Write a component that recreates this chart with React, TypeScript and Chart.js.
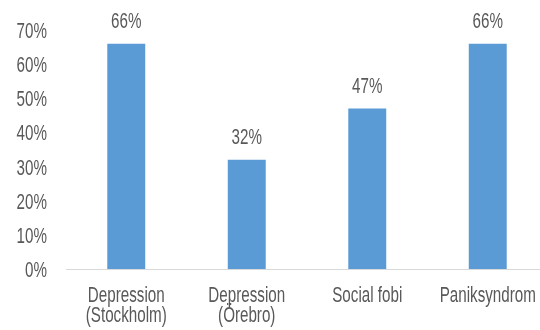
import React, { useEffect, useRef } from "react";
import { Chart, registerables } from "chart.js";

Chart.register(...registerables);

const categories: string[][] = [
  ["Depression", "(Stockholm)"],
  ["Depression", "(Örebro)"],
  ["Social fobi"],
  ["Paniksyndrom"],
];
const values: number[] = [66, 32, 47, 66];
const yTicks: number[] = [0, 10, 20, 30, 40, 50, 60, 70];

const FONT = "'Liberation Sans', Arial, sans-serif";
const FONT_SIZE = 22;
const SQUEEZE = 0.69; // horizontal squeeze for a tall, narrow look
const TEXT = "#595959";

// Draws text horizontally squeezed around an anchor point
function squeezedText(
  ctx: CanvasRenderingContext2D,
  text: string,
  x: number,
  y: number,
  align: CanvasTextAlign
) {
  ctx.save();
  ctx.translate(x, y);
  ctx.scale(SQUEEZE, 1);
  ctx.textAlign = align;
  ctx.fillText(text, 0, 0);
  ctx.restore();
}

// Axis labels and value labels drawn from the chart's own scales
const textLayer = {
  id: "textLayer",
  afterDatasetsDraw(chart: Chart) {
    const ctx = chart.ctx;
    const xs: any = chart.scales.x;
    const ys: any = chart.scales.y;
    const area = chart.chartArea;
    ctx.save();
    ctx.font = `${FONT_SIZE}px ${FONT}`;
    ctx.fillStyle = TEXT;
    ctx.textBaseline = "alphabetic";

    // y tick labels
    yTicks.forEach((v) => {
      squeezedText(ctx, `${v}%`, area.left - 19, ys.getPixelForValue(v) + 8, "right");
    });

    // category labels
    categories.forEach((lines, i) => {
      const cx = xs.getPixelForValue(i);
      lines.forEach((line, j) => {
        squeezedText(ctx, line, cx, area.bottom + 32.5 + j * 20.5, "center");
      });
    });

    // value labels above bars
    const meta = chart.getDatasetMeta(0);
    meta.data.forEach((el: any, i: number) => {
      squeezedText(ctx, `${values[i]}%`, el.x, el.y - 16, "center");
    });
    ctx.restore();
  },
};

export default function App() {
  const ref = useRef<HTMLCanvasElement>(null);

  useEffect(() => {
    if (!ref.current) return;
    const chart = new Chart(ref.current, {
      type: "bar",
      data: {
        labels: categories.map((c) => c.join(" ")),
        datasets: [
          {
            data: values,
            backgroundColor: "#5b9bd5",
            borderWidth: 0,
            categoryPercentage: 1,
            barPercentage: 0.315,
          },
        ],
      },
      options: {
        responsive: false,
        animation: false,
        layout: { autoPadding: false, padding: { top: 30, right: 12, left: 0, bottom: 0 } },
        plugins: { legend: { display: false }, tooltip: { enabled: false } },
        scales: {
          x: {
            grid: { display: false, drawTicks: false },
            border: { display: true, color: "#d9d9d9", width: 1 },
            ticks: { display: false },
            afterFit: (s: any) => {
              s.height = 61;
            },
          },
          y: {
            min: 0,
            max: 70,
            grid: { display: false, drawTicks: false },
            border: { display: false },
            ticks: { display: false, stepSize: 10 },
            afterFit: (s: any) => {
              s.width = 66;
            },
          },
        },
      },
      plugins: [textLayer],
    });
    return () => chart.destroy();
  }, []);

  return (
    <canvas
      ref={ref}
      width={560}
      height={330}
      style={{ position: "fixed", left: 0, top: 0, width: 560, height: 330, background: "#fff" }}
    />
  );
}
